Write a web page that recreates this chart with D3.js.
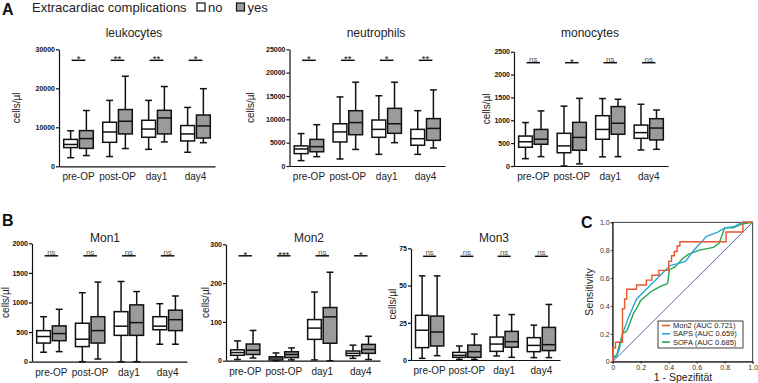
<!DOCTYPE html>
<html>
<head>
<meta charset="utf-8">
<script src="https://d3js.org/d3.v7.min.js"></script>
<style>
  body { margin: 0; background: #fff; }
  svg { font-family: "Liberation Sans", Arial, sans-serif; }
  .yax text { font-size: 7px; font-weight: bold; fill: #111; }
  .yax path, .yax line, .xax path { stroke: #111; stroke-width: 1.2px; }
  .xax text { font-size: 10px; fill: #222; }
  .rocax text { font-size: 7px; fill: #333; }
  .rocax path, .rocax line { stroke: #111; stroke-width: 0.8px; }
</style>
</head>
<body>
<svg id="fig" width="758" height="383"></svg>
<script>
// ---- data ----
const timepoints = ["pre-OP", "post-OP", "day1", "day4"];
const groups = ["no", "yes"];

// [min, q1, median, q3, max] for each timepoint
const leukocytesNo = [[2200, 4800, 5600, 6900, 9100], [2500, 6150, 8800, 11300, 16900], [4350, 7450, 9550, 11800, 16900], [3600, 6500, 8300, 10450, 15100]];
const leukocytesYes = [[2750, 4600, 7100, 9150, 14300], [4550, 8300, 11550, 14550, 23100], [6250, 8300, 12400, 14350, 20450], [6050, 7250, 10350, 13150, 19900]];
const leukocytesSig = ["*", "**", "**", "*"];

const neutrophilsNo = [[1150, 2650, 3650, 4300, 6950], [1500, 5150, 7300, 9050, 14800], [2500, 6150, 7850, 9850, 15050], [2500, 4450, 5850, 7850, 11850]];
const neutrophilsYes = [[2000, 3050, 4150, 5700, 8850], [3550, 6700, 9300, 11850, 17950], [5000, 7000, 9050, 12350, 17950], [3850, 5500, 8050, 10150, 16300]];
const neutrophilsSig = ["*", "**", "*", "**"];

const monocytesNo = [[160, 410, 530, 655, 950], [0, 290, 440, 715, 1310], [200, 585, 800, 1100, 1475], [350, 605, 730, 895, 1350]];
const monocytesYes = [[205, 475, 585, 800, 1205], [45, 345, 625, 955, 1480], [205, 695, 935, 1300, 1460], [365, 570, 830, 1035, 1225]];
const monocytesSig = ["ns", "*", "ns", "ns"];

const mon1No = [[160, 315, 425, 525, 760], [0, 255, 380, 650, 1165], [0, 445, 600, 845, 1355], [295, 540, 600, 760, 980]];
const mon1Yes = [[170, 355, 475, 605, 885], [45, 315, 525, 760, 1345], [0, 445, 660, 960, 1185], [295, 525, 710, 870, 1110]];
const mon1Sig = ["ns", "ns", "ns", "ns"];

const mon2No = [[3, 14, 21, 28, 51], [0, 2, 7, 10, 20], [2, 55, 84, 106, 177], [6, 13, 19, 25, 40]];
const mon2Yes = [[7, 16, 27, 43, 78], [2, 8, 16, 23, 33], [0, 45, 113, 137, 228], [3, 19, 29, 42, 63]];
const mon2Sig = ["*", "***", "ns", "*"];

const mon3No = [[1.1, 8.3, 20, 30, 56.5], [0.4, 1.8, 3.1, 5.1, 9.4], [2.7, 5.8, 10.7, 15.4, 30.1], [1.6, 5.6, 9.8, 15, 23.4]];
const mon3Yes = [[2.9, 9.4, 18.8, 29.5, 56.5], [0.4, 1.8, 5.6, 10, 17.4], [1.8, 8.6, 12.3, 19.2, 30.5], [1.6, 6.3, 10.3, 21.9, 37.3]];
const mon3Sig = ["ns", "ns", "ns", "ns"];

// ROC curves: [1 - specificity, sensitivity]
const rocMon2 = [[0, 0], [0, 0.1], [0.02, 0.1], [0.02, 0.14], [0.07, 0.14], [0.07, 0.38], [0.085, 0.38], [0.085, 0.45], [0.1, 0.45], [0.1, 0.52], [0.17, 0.52], [0.17, 0.55], [0.24, 0.55], [0.24, 0.585], [0.28, 0.585], [0.28, 0.62], [0.33, 0.62], [0.33, 0.655], [0.4, 0.655], [0.4, 0.72], [0.42, 0.72], [0.42, 0.76], [0.44, 0.76], [0.44, 0.79], [0.46, 0.79], [0.46, 0.83], [0.48, 0.83], [0.48, 0.86], [0.81, 0.86], [0.81, 0.93], [0.93, 0.93], [0.93, 1], [1, 1]];
const rocSaps = [[0, 0.02], [0.03, 0.04], [0.05, 0.1], [0.07, 0.2], [0.11, 0.31], [0.17, 0.45], [0.28, 0.56], [0.38, 0.66], [0.41, 0.69], [0.45, 0.7], [0.52, 0.72], [0.58, 0.8], [0.67, 0.9], [0.75, 0.93], [0.8, 0.96], [0.87, 0.97], [0.93, 1], [1, 1]];
const rocSofa = [[0, 0.03], [0.03, 0.05], [0.05, 0.13], [0.07, 0.2], [0.1, 0.22], [0.12, 0.27], [0.15, 0.35], [0.17, 0.38], [0.2, 0.44], [0.27, 0.5], [0.34, 0.54], [0.39, 0.56], [0.395, 0.58], [0.405, 0.66], [0.445, 0.68], [0.5, 0.74], [0.54, 0.77], [0.62, 0.8], [0.72, 0.82], [0.76, 0.85], [0.8, 0.96], [0.86, 0.96], [0.93, 0.99], [1, 1]];
const rocLegend = ["Mon2 (AUC 0.721)", "SAPS (AUC 0.659)", "SOFA (AUC 0.685)"];

// ---- drawing ----
const svg = d3.select("#fig");
const fillScale = d3.scaleOrdinal().domain(groups).range(["#ffffff", "#9b9b9b"]);

function boxPanel(p, noData, yesData, sig) {
  const g = svg.append("g");
  const x = d3.scaleBand().domain(timepoints).range([p.x0, p.x1]);
  const sub = d3.scaleBand().domain(groups).range([0, x.bandwidth()])
    .paddingInner(0.12).paddingOuter(0.3);
  const y = d3.scaleLinear().domain([0, p.max]).range([p.yBot, p.yTop]);

  // axes
  g.append("g").attr("class", "yax")
    .attr("transform", `translate(${p.x0},0)`)
    .call(d3.axisLeft(y).tickValues(d3.range(0, p.max + 1, p.step))
      .tickSize(3).tickSizeOuter(0).tickPadding(1).tickFormat(d3.format("d")));
  g.append("g").attr("class", "xax")
    .attr("transform", `translate(0,${p.yBot})`)
    .call(d3.axisBottom(x).tickSize(0).tickPadding(7));

  g.append("text").text(p.title)
    .attr("x", p.titleX).attr("y", p.titleY)
    .attr("text-anchor", "middle").attr("font-size", 12).attr("fill", "#222");
  g.append("text").text("cells/µl")
    .attr("transform", `translate(${p.ylabX},${(p.yTop + p.yBot) / 2}) rotate(-90)`)
    .attr("text-anchor", "middle").attr("font-size", 10).attr("fill", "#222");

  const rows = [];
  timepoints.forEach((t, i) => {
    rows.push({ t: t, grp: "no", v: noData[i] });
    rows.push({ t: t, grp: "yes", v: yesData[i] });
  });
  const bw = sub.bandwidth();
  const boxes = g.selectAll("g.box").data(rows).join("g").attr("class", "box")
    .attr("transform", (d) => `translate(${x(d.t) + sub(d.grp)},0)`);
  boxes.append("line")
    .attr("x1", bw / 2).attr("x2", bw / 2)
    .attr("y1", (d) => y(d.v[0])).attr("y2", (d) => y(d.v[4]))
    .attr("stroke", "#111").attr("stroke-width", 1.5);
  boxes.append("line")
    .attr("x1", bw / 4).attr("x2", bw * 3 / 4)
    .attr("y1", (d) => y(d.v[4])).attr("y2", (d) => y(d.v[4]))
    .attr("stroke", "#111").attr("stroke-width", 1.5);
  boxes.append("line")
    .attr("x1", bw / 4).attr("x2", bw * 3 / 4)
    .attr("y1", (d) => y(d.v[0])).attr("y2", (d) => y(d.v[0]))
    .attr("stroke", "#111").attr("stroke-width", 1.5);
  boxes.append("rect")
    .attr("x", 0).attr("width", bw)
    .attr("y", (d) => y(d.v[3])).attr("height", (d) => y(d.v[1]) - y(d.v[3]))
    .attr("fill", (d) => fillScale(d.grp))
    .attr("stroke", "#111").attr("stroke-width", 1.5);
  boxes.append("line")
    .attr("x1", 0).attr("x2", bw)
    .attr("y1", (d) => y(d.v[2])).attr("y2", (d) => y(d.v[2]))
    .attr("stroke", "#111").attr("stroke-width", 1.5);

  // significance
  const barY = p.yTop + p.sigOff;
  const sg = g.selectAll("g.sig").data(timepoints).join("g").attr("class", "sig")
    .attr("transform", (d) => `translate(${x(d) + sub("no") + bw / 2 + 1},0)`);
  sg.append("line")
    .attr("x1", 0).attr("x2", sub("yes") - sub("no") - 2)
    .attr("y1", barY).attr("y2", barY)
    .attr("stroke", "#111").attr("stroke-width", 1.5);
  sg.append("text")
    .text((d, i) => sig[i])
    .attr("x", (sub("yes") - sub("no") - 2) / 2)
    .attr("y", (d, i) => sig[i] === "ns" ? barY - 1 : barY + 1.8)
    .attr("text-anchor", "middle")
    .attr("font-size", (d, i) => sig[i] === "ns" ? 8 : 9.5)
    .attr("fill", (d, i) => sig[i] === "ns" ? "#555" : "#111");
}

boxPanel({ x0: 59, x1: 215, yTop: 49.3, yBot: 166.3, max: 30000, step: 10000,
  title: "leukocytes", titleX: 134, titleY: 37, ylabX: 20, sigOff: 11 },
  leukocytesNo, leukocytesYes, leukocytesSig);
boxPanel({ x0: 289.5, x1: 445, yTop: 49.3, yBot: 166, max: 25000, step: 5000,
  title: "neutrophils", titleX: 376, titleY: 37, ylabX: 254, sigOff: 11 },
  neutrophilsNo, neutrophilsYes, neutrophilsSig);
boxPanel({ x0: 514, x1: 668, yTop: 51.7, yBot: 166, max: 2500, step: 500,
  title: "monocytes", titleX: 590, titleY: 37, ylabX: 490, sigOff: 11 },
  monocytesNo, monocytesYes, monocytesSig);
boxPanel({ x0: 32, x1: 187, yTop: 243.3, yBot: 361.7, max: 2000, step: 500,
  title: "Mon1", titleX: 105, titleY: 242, ylabX: 9, sigOff: 12.5 },
  mon1No, mon1Yes, mon1Sig);
boxPanel({ x0: 226, x1: 380, yTop: 244.3, yBot: 360.7, max: 300, step: 100,
  title: "Mon2", titleX: 309, titleY: 242, ylabX: 209, sigOff: 11.5 },
  mon2No, mon2Yes, mon2Sig);
boxPanel({ x0: 411, x1: 560, yTop: 248.3, yBot: 360, max: 75, step: 25,
  title: "Mon3", titleX: 494, titleY: 242, ylabX: 396, sigOff: 8 },
  mon3No, mon3Yes, mon3Sig);

// panel letters + legend
[["A", 2, 15], ["B", 2, 226], ["C", 581, 228]].forEach(([t, lx, ly]) => {
  svg.append("text").text(t).attr("x", lx).attr("y", ly)
    .attr("font-size", 16).attr("font-weight", "bold").attr("fill", "#111");
});
svg.append("text").text("Extracardiac complications")
  .attr("x", 32).attr("y", 12).attr("font-size", 13).attr("fill", "#222");
const leg = svg.selectAll("g.leg").data(groups).join("g").attr("class", "leg")
  .attr("transform", (d, i) => `translate(${197 + i * 39.5},3)`);
leg.append("rect").attr("width", 8).attr("height", 8)
  .attr("fill", (d) => fillScale(d)).attr("stroke", "#111").attr("stroke-width", 1.2);
leg.append("text").text((d) => d).attr("x", 11).attr("y", 9)
  .attr("font-size", 13).attr("fill", "#222");

// ROC panel
const roc = svg.append("g");
const xr = d3.scaleLinear().domain([0, 1]).range([612.7, 752.7]);
const yr = d3.scaleLinear().domain([0, 1]).range([361.7, 222.3]);
const rocTicks = [0, 0.2, 0.4, 0.6, 0.8, 1];
const rocFmt = (d) => (d === 0 ? "0" : d3.format(".1f")(d));
roc.append("g").attr("class", "rocax").attr("transform", `translate(0,${yr(0)})`)
  .call(d3.axisBottom(xr).tickValues(rocTicks).tickFormat(rocFmt).tickSize(2).tickPadding(1));
roc.append("g").attr("class", "rocax").attr("transform", `translate(${xr(0)},0)`)
  .call(d3.axisLeft(yr).tickValues(rocTicks).tickFormat(rocFmt).tickSize(2).tickPadding(1));
roc.append("rect")
  .attr("x", xr(0)).attr("y", yr(1))
  .attr("width", xr(1) - xr(0)).attr("height", yr(0) - yr(1))
  .attr("fill", "none").attr("stroke", "#111").attr("stroke-width", 0.8);
roc.append("line")
  .attr("x1", xr(0)).attr("y1", yr(0)).attr("x2", xr(1)).attr("y2", yr(1))
  .attr("stroke", "#4b5a95").attr("stroke-width", 0.9);

const rocColor = d3.scaleOrdinal().domain(rocLegend).range(["#e4572e", "#2aa6d9", "#27a64c"]);
const rocLine = d3.line().x((d) => xr(d[0])).y((d) => yr(d[1]));
[[rocSofa, rocLegend[2]], [rocSaps, rocLegend[1]], [rocMon2, rocLegend[0]]].forEach(([pts, name]) => {
  roc.append("path").attr("d", rocLine(pts))
    .attr("fill", "none").attr("stroke", rocColor(name)).attr("stroke-width", 1.4);
});

roc.append("text").text("Sensitivity")
  .attr("transform", `translate(593,${(yr(0) + yr(1)) / 2}) rotate(-90)`)
  .attr("text-anchor", "middle").style("font-size", "10.5px").attr("fill", "#222");
roc.append("text").text("1 - Spezifität")
  .attr("x", 683).attr("y", 381)
  .attr("text-anchor", "middle").style("font-size", "10.5px").attr("fill", "#222");

const lg = roc.append("g").attr("transform", "translate(658,321)");
lg.append("rect").attr("width", 85).attr("height", 27)
  .attr("fill", "#fff").attr("stroke", "#111").attr("stroke-width", 0.8);
const li = lg.selectAll("g.li").data(rocLegend).join("g").attr("class", "li")
  .attr("transform", (d, i) => `translate(0,${4.5 + i * 8.3})`);
li.append("line").attr("x1", 4).attr("x2", 12).attr("y1", 0).attr("y2", 0)
  .attr("stroke", (d) => rocColor(d)).attr("stroke-width", 1.6);
li.append("text").text((d) => d).attr("x", 15).attr("y", 2.6)
  .style("font-size", "7.5px").attr("fill", "#222");
</script>
</body>
</html>
